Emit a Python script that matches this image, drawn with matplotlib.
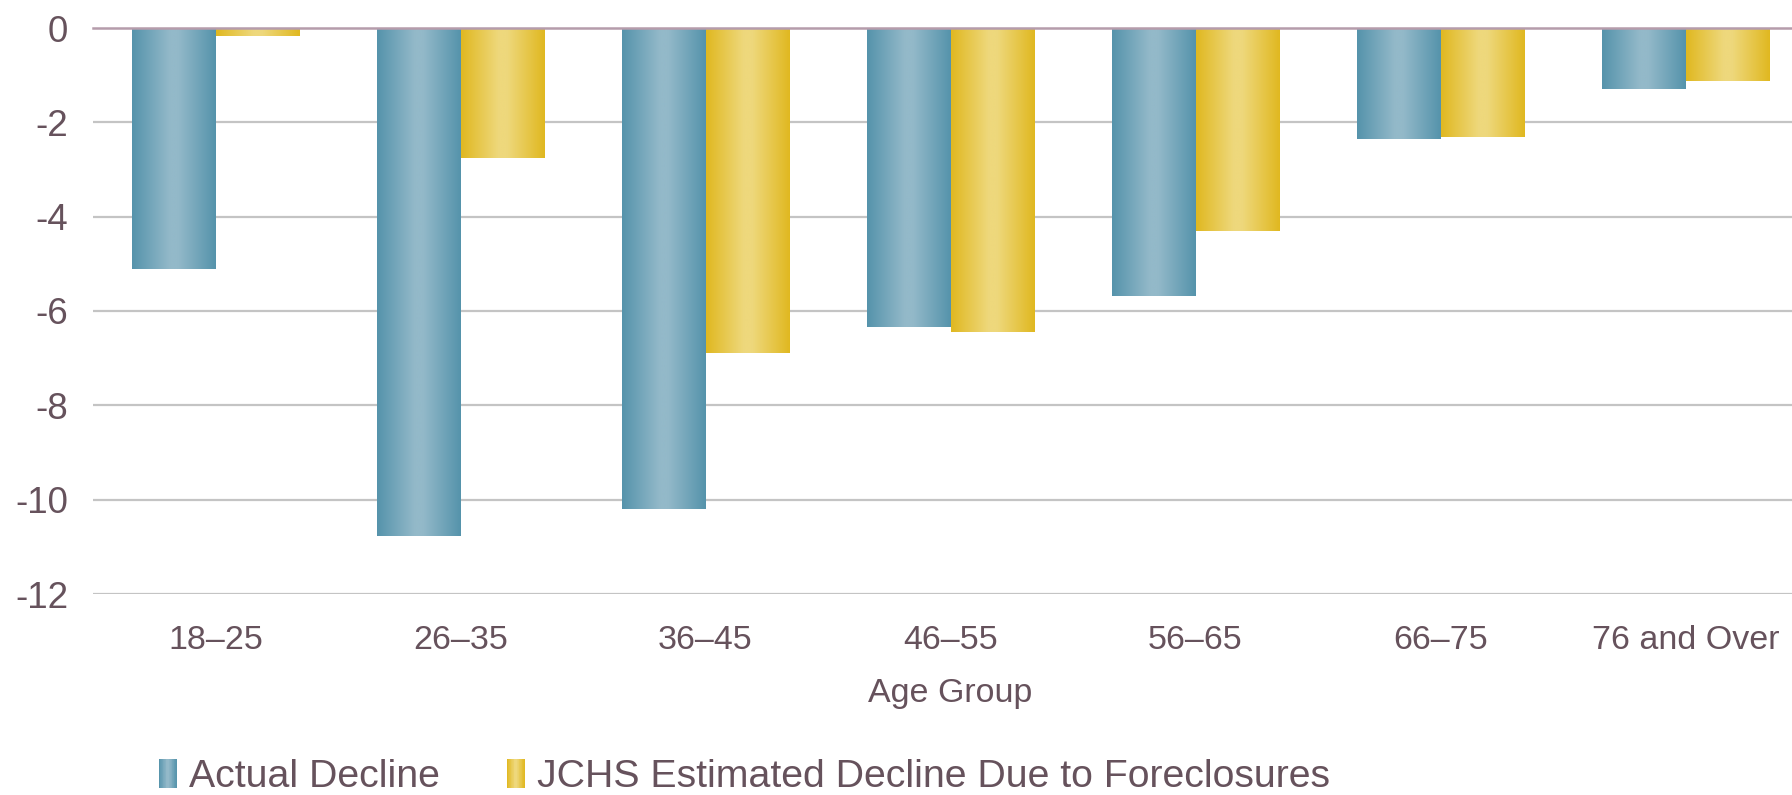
import numpy as np
import matplotlib
matplotlib.use("Agg")
import matplotlib.pyplot as plt
from matplotlib.colors import LinearSegmentedColormap
from matplotlib.patches import Rectangle
from matplotlib.legend_handler import HandlerBase

# Data: change in homeownership rate by age group (percentage points)
age_groups = ["18\u201325", "26\u201335", "36\u201345", "46\u201355", "56\u201365", "66\u201375", "76 and Over"]
actual_decline = [-5.12, -10.76, -10.2, -6.33, -5.68, -2.35, -1.29]
jchs_estimate = [-0.18, -2.75, -6.88, -6.44, -4.30, -2.31, -1.12]
series_names = ["Actual Decline", "JCHS Estimated Decline Due to Foreclosures"]
y_ticks = [0, -2, -4, -6, -8, -10, -12]

TEXT = "#66525c"
BLUE_EDGE, BLUE_MID = "#5593ab", "#93b9c9"
GOLD_EDGE, GOLD_MID = "#e0b820", "#eed87c"

plt.rcParams["font.family"] = ["Liberation Sans", "DejaVu Sans"]


def edge_mid_cmap(edge, mid):
    return LinearSegmentedColormap.from_list(
        "g", [(0.0, edge), (0.45, mid), (0.55, mid), (1.0, edge)])


blue_cmap = edge_mid_cmap(BLUE_EDGE, BLUE_MID)
gold_cmap = edge_mid_cmap(GOLD_EDGE, GOLD_MID)
gradient = np.linspace(0, 1, 256).reshape(1, -1)

fig = plt.figure(figsize=(17.92, 7.95), dpi=100)
ax = fig.add_axes([93 / 1792, 201 / 795, 1715 / 1792, 566 / 795])

x = np.arange(len(age_groups))
w = 0.34


def gradient_bars(xpos, values, cmap):
    bars = ax.bar(xpos, values, width=w, facecolor="none", edgecolor="none", zorder=2)
    for bar in bars:
        x0, y0 = bar.get_x(), bar.get_y()
        x1, y1 = x0 + bar.get_width(), y0 + bar.get_height()
        im = ax.imshow(gradient, cmap=cmap, aspect="auto",
                       extent=(x0, x1, min(y0, y1), max(y0, y1)),
                       interpolation="bilinear", zorder=2)
        im.set_clip_path(bar)
    return bars


gradient_bars(x - w / 2, actual_decline, blue_cmap)
gradient_bars(x + w / 2, jchs_estimate, gold_cmap)

ax.set_xlim(-0.5, len(age_groups) - 0.5)
ax.set_ylim(-12, 0)
ax.set_yticks(y_ticks)
ax.set_yticklabels([str(t) for t in y_ticks])
ax.set_xticks(x)
ax.set_xticklabels(age_groups)

for t in y_ticks[1:]:
    ax.axhline(t, color="#c4c4c4", lw=1.6, zorder=1)
ax.axhline(0, color="#b59cab", lw=1.8, zorder=3, clip_on=False)

for s in ax.spines.values():
    s.set_visible(False)
ax.tick_params(axis="both", length=0, labelcolor=TEXT)
ax.tick_params(axis="y", pad=18, labelsize=26.5)
ax.tick_params(axis="x", pad=22, labelsize=24.5)
ax.set_xlabel("Age Group", fontsize=24.5, color=TEXT, labelpad=16)


class GradientHandler(HandlerBase):
    def __init__(self, cmap):
        super().__init__()
        self.cmap = cmap

    def create_artists(self, legend, orig_handle, xdescent, ydescent,
                       width, height, fontsize, trans):
        n = 24
        artists = []
        for i in range(n):
            c = self.cmap((i + 0.5) / n)
            r = Rectangle((-xdescent + width * i / n, -ydescent - 0.12 * height),
                          width / n + 0.2, height * 1.2,
                          facecolor=c, edgecolor="none", transform=trans)
            artists.append(r)
        return artists


h1 = Rectangle((0, 0), 1, 1)
h2 = Rectangle((0, 0), 1, 1)
fig.legend([h1, h2], series_names, loc="center left",
           bbox_to_anchor=(159 / 1792, 1 - 777 / 795), ncol=2, frameon=False,
           fontsize=28.3, labelcolor=TEXT, handlelength=0.45, handleheight=0.55,
           handletextpad=0.32, columnspacing=1.7, borderpad=0, borderaxespad=0,
           handler_map={h1: GradientHandler(blue_cmap), h2: GradientHandler(gold_cmap)})

fig.savefig("out.png", dpi=100, facecolor="white")
